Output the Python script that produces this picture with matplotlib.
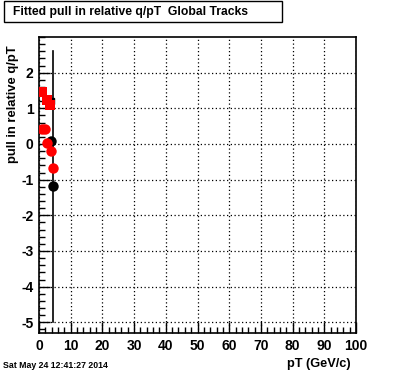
import matplotlib
matplotlib.use("Agg")
import matplotlib.pyplot as plt
from matplotlib.ticker import MultipleLocator
from matplotlib.patches import Rectangle

plt.rcParams['font.family'] = ['Liberation Sans', 'DejaVu Sans']

# red squares
sq_x = [1.0, 2.4, 3.5]
sq_y = [1.47, 1.22, 1.08]
# red circles
rc_x = [1.0, 1.9, 2.6, 3.7, 4.5]
rc_y = [0.43, 0.43, 0.03, -0.19, -0.66]
# black circles
bc_x = [3.7, 4.5]
bc_y = [0.07, -1.19]
# black squares (mostly hidden behind the red ones)
bs_x = [3.9]
bs_y = [1.2]
# vertical line
vline_x = 4.4
vline_y = (-5.0, 2.6)

W, H = 396, 372
fig = plt.figure(figsize=(3.96, 3.72), dpi=100)
ax = fig.add_axes([39/W, 1 - 333/H, (356-39)/W, (333-37)/H])

ax.plot([vline_x, vline_x], vline_y, color='black', lw=1.2, zorder=2)
ax.plot(bs_x, bs_y, 's', color='black', ms=4, zorder=3)
ax.plot(bc_x, bc_y, 'o', color='black', ms=7.5, mew=0, zorder=3)
ax.plot(rc_x, rc_y, 'o', color='red', ms=7.5, mew=0, zorder=4)
ax.plot(sq_x, sq_y, 's', color='red', ms=7.5, mew=0, zorder=4)

ax.set_xlim(0, 100)
ax.set_ylim(-5.3, 3.0)
ax.xaxis.set_major_locator(MultipleLocator(10))
ax.xaxis.set_minor_locator(MultipleLocator(2))
ax.yaxis.set_minor_locator(MultipleLocator(0.2))
ax.tick_params(which='both', direction='in', top=False, right=False,
               labelsize=10, width=1, pad=4)
ax.tick_params(which='major', length=8)
ax.tick_params(which='minor', length=4)
ax.set_yticks([2, 1, 0, -1, -2, -3, -4, -5])
ax.set_yticklabels(['2', '1', '0', '-1', '-2', '-3', '-4', '-5'])
for lbl in ax.get_xticklabels() + ax.get_yticklabels():
    lbl.set_fontweight('bold')
ax.grid(True, which='major', color='black', linestyle=(0, (1, 2)), lw=0.9)
for s in ax.spines.values():
    s.set_linewidth(1.2)

fig.text(13/W, 1 - 45/H, 'pull in relative q/pT', rotation=90,
         ha='center', va='top', fontweight='bold', fontsize=9.4)
fig.text(351/W, 1 - 364/H, 'pT (GeV/c)', ha='right', va='center',
         fontweight='bold', fontsize=9.2)
fig.text(3/W, 1 - 365/H, 'Sat May 24 12:41:27 2014', ha='left',
         va='center', fontsize=6.3, fontweight='bold')

fig.patches.append(Rectangle((4/W, 1 - 22/H), 278/W, 21/H, transform=fig.transFigure,
                             facecolor='white', edgecolor='black', lw=1))
fig.text(13/W, 1 - 11.5/H, 'Fitted pull in relative q/pT  Global Tracks',
         ha='left', va='center', fontweight='bold', fontsize=8.7)

fig.savefig('out.png', dpi=100)
